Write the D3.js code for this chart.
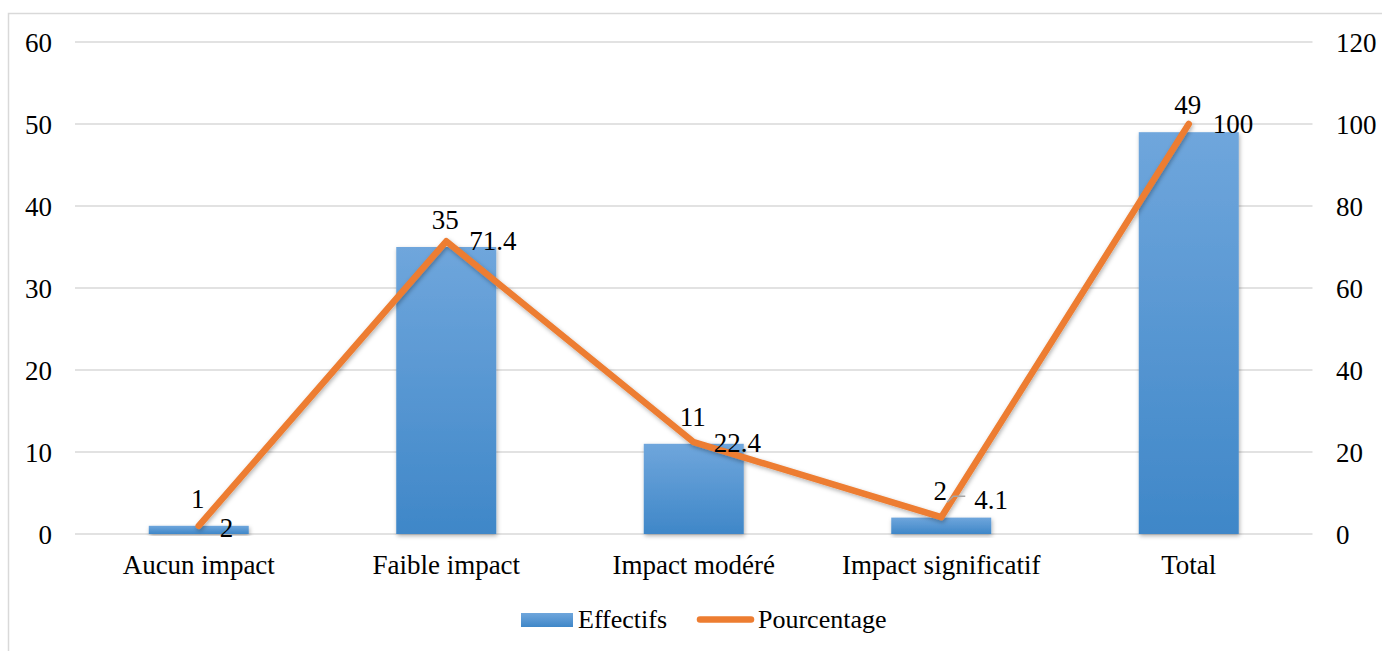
<!DOCTYPE html>
<html><head><meta charset="utf-8">
<script src="https://cdn.jsdelivr.net/npm/d3@7"></script>
<style>body{margin:0;background:#fff}svg{display:block}</style>
</head><body>
<script>
const categories = ["Aucun impact","Faible impact","Impact modéré","Impact significatif","Total"];
const effectifs = [1,35,11,2,49];
const pourcentage = [2,71.4,22.4,4.1,100];
const leftTicks = [0,10,20,30,40,50,60];
const rightTicks = [0,20,40,60,80,100,120];

const W=1382,H=651, fs=27, fsL=26;
const FF="'Liberation Serif', 'Times New Roman', Tinos, 'DejaVu Serif', serif";
const svg=d3.select("body").append("svg").attr("width",W).attr("height",H).style("font-family",FF);
const defs=svg.append("defs");
const g1=defs.append("linearGradient").attr("id","bg").attr("x1",0).attr("y1",0).attr("x2",0).attr("y2",1);
g1.append("stop").attr("offset","0%").attr("stop-color","#6fa6dc");
g1.append("stop").attr("offset","100%").attr("stop-color","#3f87c8");
const f=defs.append("filter").attr("id","sh").attr("x","-20%").attr("y","-20%").attr("width","140%").attr("height","140%");
f.append("feDropShadow").attr("dx",1).attr("dy",2).attr("stdDeviation",2).attr("flood-color","#000").attr("flood-opacity",0.3);

svg.append("path").attr("d",`M8.5,${H} V13.5 H${W}`).attr("fill","none").attr("stroke","#d9d9d9").attr("stroke-width",1.5);

const x=d3.scaleBand().domain(categories).range([75,1312.5]).paddingInner(0).paddingOuter(0);
const yL=d3.scaleLinear().domain([0,60]).range([534,42]);
const yR=d3.scaleLinear().domain([0,120]).range([534,42]);

svg.append("g").selectAll("line").data(leftTicks).join("line")
 .attr("x1",75).attr("x2",1312.5).attr("y1",d=>yL(d)).attr("y2",d=>yL(d))
 .attr("stroke","#d9d9d9").attr("stroke-width",1.5);

function styleAxis(g){
  g.attr("font-family",null).attr("font-size",null);
  g.select(".domain").remove();
  g.selectAll("text").style("font-family",FF).style("font-size",fs+"px").attr("fill","#000");
}
const gl=svg.append("g").attr("transform","translate(52,1)").call(d3.axisLeft(yL).tickValues(leftTicks).tickSize(0).tickPadding(0));
styleAxis(gl);
const gr=svg.append("g").attr("transform","translate(1336,1)").call(d3.axisRight(yR).tickValues(rightTicks).tickSize(0).tickPadding(0));
styleAxis(gr);
const gb=svg.append("g").attr("transform","translate(0,555)").call(d3.axisBottom(x).tickSize(0).tickPadding(0));
styleAxis(gb);

const bw=100;
svg.append("g").selectAll("rect").data(effectifs).join("rect")
 .attr("x",(d,i)=>x(categories[i])+x.bandwidth()/2-bw/2)
 .attr("width",bw).attr("y",d=>yL(d)).attr("height",d=>yL(0)-yL(d))
 .attr("fill","url(#bg)").attr("filter","url(#sh)");

const line=d3.line().x((d,i)=>x(categories[i])+x.bandwidth()/2).y(d=>yR(d));
svg.append("path").datum(pourcentage).attr("d",line).attr("fill","none")
 .attr("stroke","#ed7d31").attr("stroke-width",6.5).attr("stroke-linejoin","round").attr("stroke-linecap","round")
 .attr("filter","url(#sh)");

svg.append("g").selectAll("text").data(effectifs).join("text")
 .attr("x",(d,i)=>x(categories[i])+x.bandwidth()/2-1).attr("y",d=>yL(d)-18)
 .attr("text-anchor","middle").style("font-size",fs+"px").text(d=>d);

const i3=3, px=x(categories[i3])+x.bandwidth()/2, py=yR(pourcentage[i3]);
svg.append("path").attr("d",`M${px+6},${py-15} L${px+12},${py-21} H${px+24}`).attr("fill","none").attr("stroke","#a6a6a6").attr("stroke-width",1.5);

const off=[[21,11],[23,9],[20,10],[33,-8],[24,9]];
svg.append("g").selectAll("text").data(pourcentage).join("text")
 .attr("x",(d,i)=>x(categories[i])+x.bandwidth()/2+off[i][0]).attr("y",(d,i)=>yR(d)+off[i][1])
 .style("font-size",fs+"px").text(d=>d);

const lg=svg.append("g");
lg.append("rect").attr("x",521).attr("y",613).attr("width",52).attr("height",14).attr("fill","url(#bg)");
lg.append("text").attr("x",578).attr("y",628).style("font-size",fsL+"px").text("Effectifs");
lg.append("line").attr("x1",700).attr("x2",751).attr("y1",619.5).attr("y2",619.5).attr("stroke","#ed7d31").attr("stroke-width",6.5).attr("stroke-linecap","round");
lg.append("text").attr("x",758).attr("y",628).style("font-size",fsL+"px").text("Pourcentage");
</script>
</body></html>
